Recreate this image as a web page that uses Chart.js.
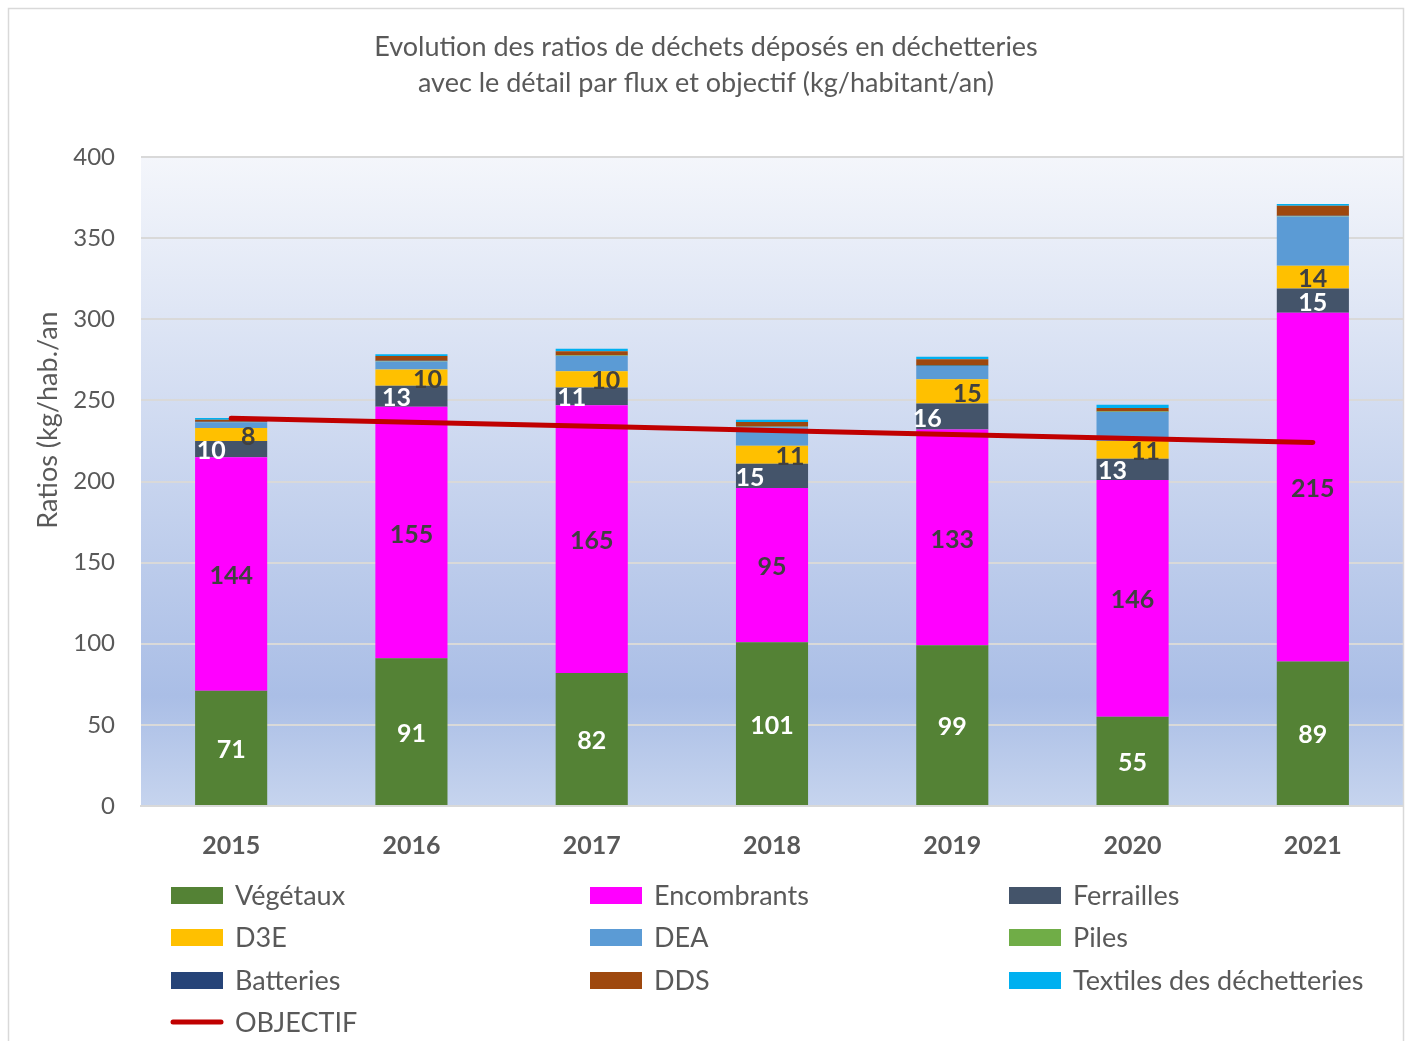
<!DOCTYPE html>
<html lang="fr">
<head>
<meta charset="utf-8">
<title>Ratios déchetteries</title>
<script src="https://cdn.jsdelivr.net/npm/chart.js@4.4.1/dist/chart.umd.min.js"></script>
<style>
  html, body { margin: 0; padding: 0; background: #ffffff; }
  #wrap { width: 1405px; height: 1041px; position: relative; }
</style>
</head>
<body>
<div id="wrap"><canvas id="dechetsChart"></canvas></div>
<script>
// Data (kg/habitant/an)
const years = ["2015", "2016", "2017", "2018", "2019", "2020", "2021"];
const vegetaux = [71, 91, 82, 101, 99, 55, 89];
const encombrants = [144, 155, 165, 95, 133, 146, 215];
const ferrailles = [10, 13, 11, 15, 16, 13, 15];
const d3e = [8, 10, 10, 11, 15, 11, 14];
const dea = [3.5, 5, 9.4, 11.5, 8.2, 17.9, 30.4];
const piles = [0.2, 0.2, 0.2, 0.2, 0.2, 0.2, 0.2];
const batteries = [0.2, 0.2, 0.2, 0.2, 0.4, 0.2, 0.2];
const dds = [1.2, 3, 2.5, 2.7, 3.5, 2, 6.2];
const textiles = [1, 1, 1.5, 1.4, 1.6, 2, 1];
const objectif = [239, 236.5, 234, 231.5, 229, 226.5, 224];
const yTicks = [0, 50, 100, 150, 200, 250, 300, 350, 400];

const FONT = "Lato, 'Open Sans', sans-serif";
const GREY = "#595959";

// which stacks get a value label, with colour and horizontal nudge per year
const labelStyles = {
  "Végétaux": { color: "#ffffff", dx: [0, 0, 0, 0, 0, 0, 0] },
  "Encombrants": { color: "#404040", dx: [0, 0, 0, 0, 0, 0, 0] },
  "Ferrailles": { color: "#ffffff", dx: [-20, -15, -20, -22, -25, -20, 0] },
  "D3E": { color: "#404040", dx: [17, 16, 14, 18, 15, 13, 0] },
};

// background, frame and titles
const decorPlugin = {
  id: "decor",
  beforeDraw(chart) {
    const { ctx, chartArea: a } = chart;
    ctx.save();
    ctx.fillStyle = "#ffffff";
    ctx.fillRect(0, 0, chart.width, chart.height);
    const g = ctx.createLinearGradient(0, a.top, 0, a.bottom);
    g.addColorStop(0, "#f4f6fb");
    g.addColorStop(0.83, "#aabee6");
    g.addColorStop(1, "#c6d4ee");
    ctx.fillStyle = g;
    ctx.fillRect(a.left, a.top, a.right - a.left, a.bottom - a.top);
    ctx.strokeStyle = "#d9d9d9";
    ctx.lineWidth = 1.5;
    ctx.strokeRect(8.5, 8.5, 1395, 1045);
    ctx.restore();
  },
  afterDraw(chart) {
    const { ctx } = chart;
    ctx.save();
    ctx.fillStyle = GREY;
    ctx.textAlign = "center";
    ctx.textBaseline = "middle";
    ctx.font = "27px " + FONT;
    ctx.fillText("Evolution des ratios de déchets déposés en déchetteries", 706, 47);
    ctx.fillText("avec le détail par flux et objectif (kg/habitant/an)", 706, 83);

    // y axis title
    ctx.translate(48, 420);
    ctx.rotate(-Math.PI / 2);
    ctx.font = "27px " + FONT;
    ctx.fillText("Ratios (kg/hab./an", 0, 0);
    ctx.restore();

    // value labels
    ctx.save();
    ctx.font = "bold 25px " + FONT;
    ctx.textAlign = "center";
    ctx.textBaseline = "middle";
    chart.data.datasets.forEach((ds, i) => {
      const st = labelStyles[ds.label];
      if (!st) return;
      const meta = chart.getDatasetMeta(i);
      meta.data.forEach((bar, j) => {
        ctx.fillStyle = st.color;
        ctx.fillText(String(ds.data[j]), bar.x + st.dx[j], (bar.y + bar.base) / 2 + 2);
      });
    });
    ctx.restore();

    // legend in three columns
    ctx.save();
    ctx.font = "27px " + FONT;
    ctx.textBaseline = "middle";
    ctx.textAlign = "left";
    const colX = [171, 590, 1009];
    const rowY = [895, 937, 980, 1022];
    chart.data.datasets.forEach((ds, i) => {
      const x = colX[i % 3];
      const y = rowY[Math.floor(i / 3)];
      if (ds.type === "line") {
        ctx.strokeStyle = ds.borderColor;
        ctx.lineWidth = 5;
        ctx.lineCap = "round";
        ctx.beginPath();
        ctx.moveTo(x + 2, y);
        ctx.lineTo(x + 50, y);
        ctx.stroke();
      } else {
        ctx.fillStyle = ds.backgroundColor;
        ctx.fillRect(x, y - 8, 52, 17);
      }
      ctx.fillStyle = GREY;
      ctx.fillText(ds.label, x + 64, y + 1);
    });
    ctx.restore();
  },
};

function barSet(label, data, color) {
  return {
    type: "bar",
    label: label,
    data: data,
    backgroundColor: color,
    borderWidth: 0,
    stack: "flux",
    barPercentage: 0.4,
    categoryPercentage: 1,
    order: 2,
  };
}

const ctx = document.getElementById("dechetsChart").getContext("2d");
new Chart(ctx, {
  data: {
    labels: years,
    datasets: [
      barSet("Végétaux", vegetaux, "#548235"),
      barSet("Encombrants", encombrants, "#ff00ff"),
      barSet("Ferrailles", ferrailles, "#44546a"),
      barSet("D3E", d3e, "#ffc000"),
      barSet("DEA", dea, "#5b9bd5"),
      barSet("Piles", piles, "#70ad47"),
      barSet("Batteries", batteries, "#264478"),
      barSet("DDS", dds, "#9e480e"),
      barSet("Textiles des déchetteries", textiles, "#00b0f0"),
      {
        type: "line",
        label: "OBJECTIF",
        data: objectif,
        borderColor: "#c00000",
        borderWidth: 5,
        borderCapStyle: "round",
        pointRadius: 0,
        fill: false,
        stack: "objectif",
        order: 1,
      },
    ],
  },
  options: {
    responsive: true,
    maintainAspectRatio: false,
    animation: false,
    layout: { padding: { top: 157, right: 2, left: 0, bottom: 0 } },
    scales: {
      x: {
        stacked: true,
        grid: { display: false },
        border: { display: true, color: "#d9d9d9", width: 2 },
        ticks: {
          color: GREY,
          font: { family: FONT, size: 25, weight: "bold" },
          padding: 17,
        },
        afterFit: (scale) => { scale.height = 235; },
      },
      y: {
        stacked: true,
        min: 0,
        max: 400,
        afterBuildTicks: (scale) => { scale.ticks = yTicks.map((v) => ({ value: v })); },
        grid: { color: "#d9d9d9", lineWidth: 2, drawTicks: false },
        border: { display: false },
        ticks: {
          color: GREY,
          font: { family: FONT, size: 24 },
          padding: 26,
        },
        afterFit: (scale) => { scale.width = 141; },
      },
    },
    plugins: {
      legend: { display: false },
      title: { display: false },
      tooltip: { enabled: false },
    },
  },
  plugins: [decorPlugin],
});
</script>
</body>
</html>
